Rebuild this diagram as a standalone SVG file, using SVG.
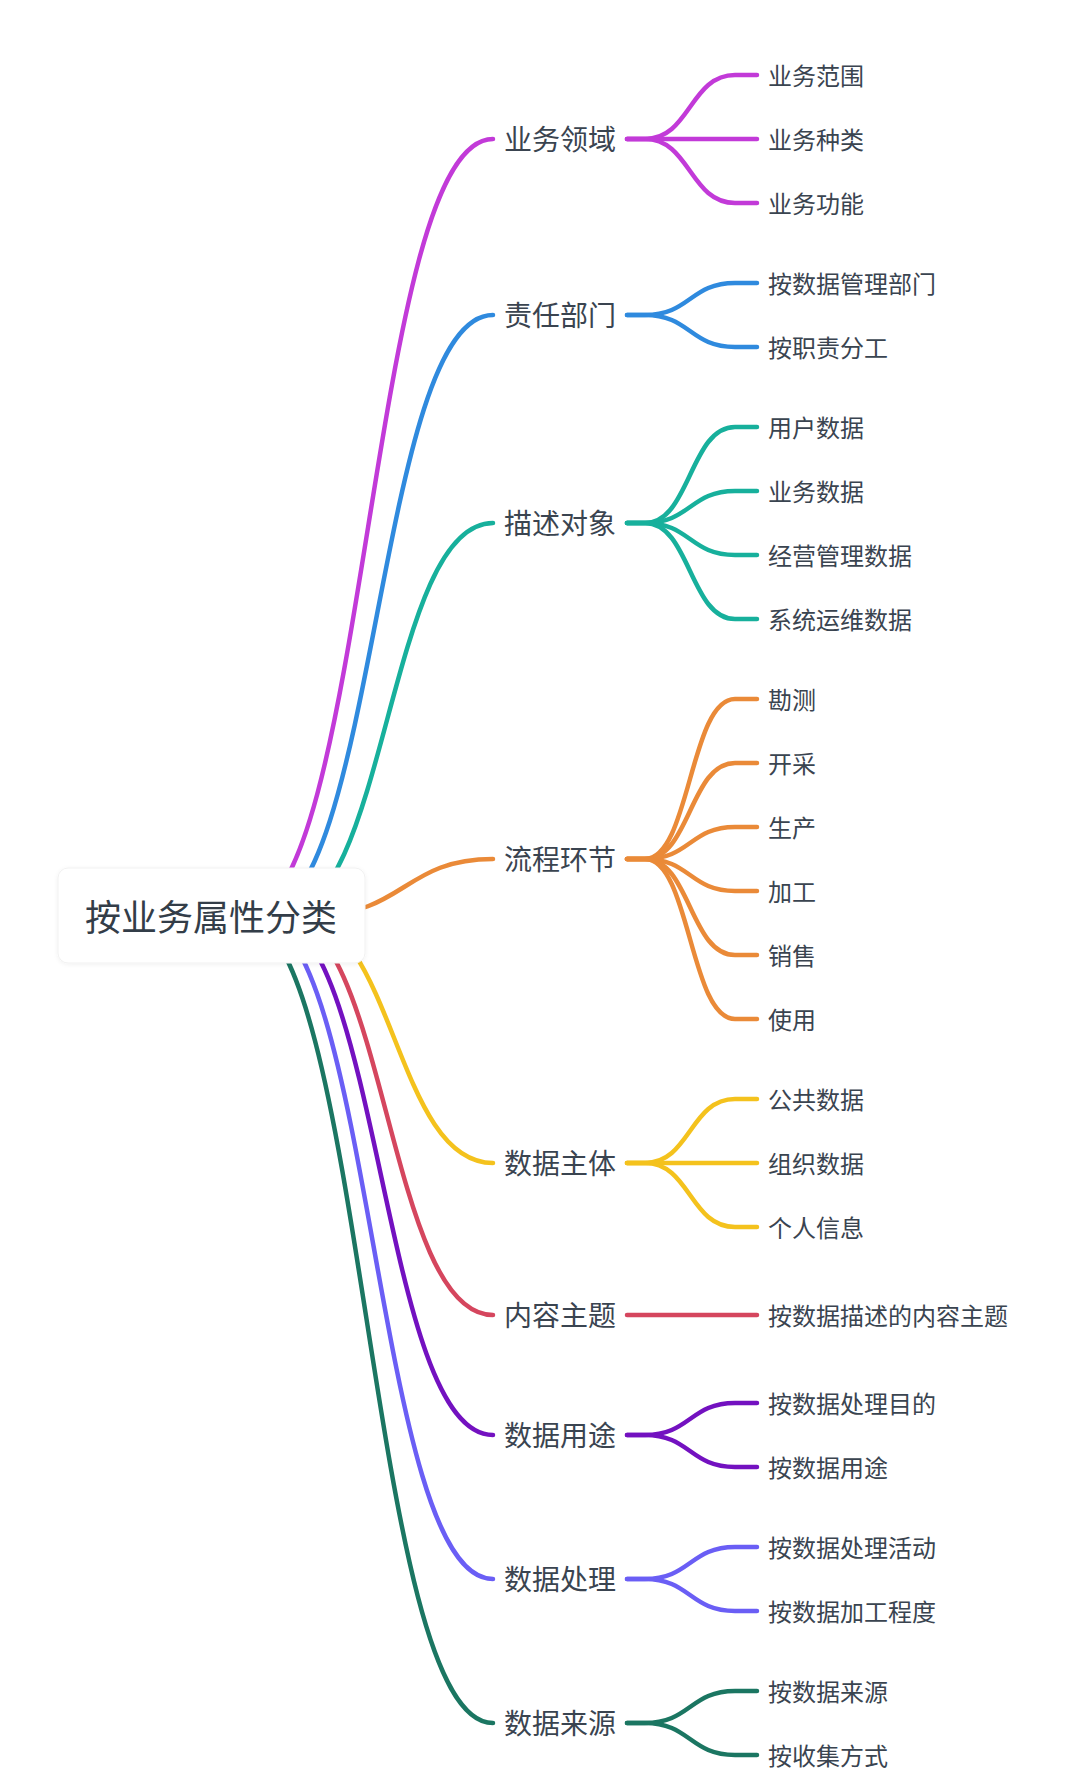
<svg xmlns="http://www.w3.org/2000/svg" width="1080" height="1790" viewBox="0 0 1080 1790">
<style>
text{font-family:"Noto Sans CJK SC","Noto Sans",sans-serif;fill:#3a4450;dominant-baseline:central}
.l1{font-size:28px}
.l2{font-size:24px}
.root{font-size:36px;text-anchor:middle;fill:#333d48}
path{fill:none;stroke-width:4.5;stroke-linecap:round}
.c1{stroke:#c23ad8}.c2{stroke:#2f8ade}.c3{stroke:#17b09c}.c4{stroke:#ea8a38}.c5{stroke:#f4c21d}
.c6{stroke:#d5465e}.c7{stroke:#7311c0}.c8{stroke:#6a5ef5}.c9{stroke:#1b7662}
</style>
<defs>
<filter id="sh" x="-10%" y="-20%" width="120%" height="140%">
<feDropShadow dx="0" dy="1" stdDeviation="2" flood-color="#000" flood-opacity="0.06"/>
</filter>
</defs>
<rect width="1080" height="1790" fill="#ffffff"/>
<g id="connectors">
<path class="c1" d="M243.2 915 C368.1 915 368.1 139 493 139"/>
<path class="c2" d="M260.8 915 C376.9 915 376.9 315 493 315"/>
<path class="c3" d="M281.6 915 C387.3 915 387.3 523 493 523"/>
<path class="c4" d="M315.2 915 C404.1 915 404.1 859 493 859"/>
<path class="c5" d="M296 915 C394.5 915 394.5 1163 493 1163"/>
<path class="c6" d="M280.8 915 C386.9 915 386.9 1315 493 1315"/>
<path class="c7" d="M268.8 915 C380.9 915 380.9 1435 493 1435"/>
<path class="c8" d="M254.4 915 C373.7 915 373.7 1579 493 1579"/>
<path class="c9" d="M240 915 C366.5 915 366.5 1723 493 1723"/>

<path class="c1" d="M627 139 H645 C690 139 690 75 735 75 H757"/>
<path class="c1" d="M627 139 H757"/>
<path class="c1" d="M627 139 H645 C690 139 690 203 735 203 H757"/>

<path class="c2" d="M627 315 H645 C690 315 690 283 735 283 H757"/>
<path class="c2" d="M627 315 H645 C690 315 690 347 735 347 H757"/>

<path class="c3" d="M627 523 H645 C690 523 690 427 735 427 H757"/>
<path class="c3" d="M627 523 H645 C690 523 690 491 735 491 H757"/>
<path class="c3" d="M627 523 H645 C690 523 690 555 735 555 H757"/>
<path class="c3" d="M627 523 H645 C690 523 690 619 735 619 H757"/>

<path class="c4" d="M627 859 H645 C690 859 690 699 735 699 H757"/>
<path class="c4" d="M627 859 H645 C690 859 690 763 735 763 H757"/>
<path class="c4" d="M627 859 H645 C690 859 690 827 735 827 H757"/>
<path class="c4" d="M627 859 H645 C690 859 690 891 735 891 H757"/>
<path class="c4" d="M627 859 H645 C690 859 690 955 735 955 H757"/>
<path class="c4" d="M627 859 H645 C690 859 690 1019 735 1019 H757"/>

<path class="c5" d="M627 1163 H645 C690 1163 690 1099 735 1099 H757"/>
<path class="c5" d="M627 1163 H757"/>
<path class="c5" d="M627 1163 H645 C690 1163 690 1227 735 1227 H757"/>

<path class="c6" d="M627 1315 H757"/>

<path class="c7" d="M627 1435 H645 C690 1435 690 1403 735 1403 H757"/>
<path class="c7" d="M627 1435 H645 C690 1435 690 1467 735 1467 H757"/>

<path class="c8" d="M627 1579 H645 C690 1579 690 1547 735 1547 H757"/>
<path class="c8" d="M627 1579 H645 C690 1579 690 1611 735 1611 H757"/>

<path class="c9" d="M627 1723 H645 C690 1723 690 1691 735 1691 H757"/>
<path class="c9" d="M627 1723 H645 C690 1723 690 1755 735 1755 H757"/>
</g>

<g id="root">
<rect x="58" y="868" width="307" height="95" rx="10" fill="#ffffff" stroke="#f1f1f1" stroke-width="1" filter="url(#sh)"/>
<text class="root" x="211" y="915">按业务属性分类</text>
</g>

<g id="n1"><text class="l1" x="504" y="138">业务领域</text></g>
<g id="n1-1"><text class="l2" x="768" y="74">业务范围</text></g>
<g id="n1-2"><text class="l2" x="768" y="138">业务种类</text></g>
<g id="n1-3"><text class="l2" x="768" y="202">业务功能</text></g>

<g id="n2"><text class="l1" x="504" y="314">责任部门</text></g>
<g id="n2-1"><text class="l2" x="768" y="282">按数据管理部门</text></g>
<g id="n2-2"><text class="l2" x="768" y="346">按职责分工</text></g>

<g id="n3"><text class="l1" x="504" y="522">描述对象</text></g>
<g id="n3-1"><text class="l2" x="768" y="426">用户数据</text></g>
<g id="n3-2"><text class="l2" x="768" y="490">业务数据</text></g>
<g id="n3-3"><text class="l2" x="768" y="554">经营管理数据</text></g>
<g id="n3-4"><text class="l2" x="768" y="618">系统运维数据</text></g>

<g id="n4"><text class="l1" x="504" y="858">流程环节</text></g>
<g id="n4-1"><text class="l2" x="768" y="698">勘测</text></g>
<g id="n4-2"><text class="l2" x="768" y="762">开采</text></g>
<g id="n4-3"><text class="l2" x="768" y="826">生产</text></g>
<g id="n4-4"><text class="l2" x="768" y="890">加工</text></g>
<g id="n4-5"><text class="l2" x="768" y="954">销售</text></g>
<g id="n4-6"><text class="l2" x="768" y="1018">使用</text></g>

<g id="n5"><text class="l1" x="504" y="1162">数据主体</text></g>
<g id="n5-1"><text class="l2" x="768" y="1098">公共数据</text></g>
<g id="n5-2"><text class="l2" x="768" y="1162">组织数据</text></g>
<g id="n5-3"><text class="l2" x="768" y="1226">个人信息</text></g>

<g id="n6"><text class="l1" x="504" y="1314">内容主题</text></g>
<g id="n6-1"><text class="l2" x="768" y="1314">按数据描述的内容主题</text></g>

<g id="n7"><text class="l1" x="504" y="1434">数据用途</text></g>
<g id="n7-1"><text class="l2" x="768" y="1402">按数据处理目的</text></g>
<g id="n7-2"><text class="l2" x="768" y="1466">按数据用途</text></g>

<g id="n8"><text class="l1" x="504" y="1578">数据处理</text></g>
<g id="n8-1"><text class="l2" x="768" y="1546">按数据处理活动</text></g>
<g id="n8-2"><text class="l2" x="768" y="1610">按数据加工程度</text></g>

<g id="n9"><text class="l1" x="504" y="1722">数据来源</text></g>
<g id="n9-1"><text class="l2" x="768" y="1690">按数据来源</text></g>
<g id="n9-2"><text class="l2" x="768" y="1754">按收集方式</text></g>
</svg>
